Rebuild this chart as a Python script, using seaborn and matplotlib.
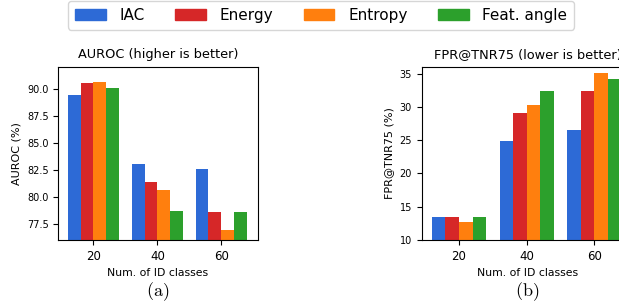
"""
Grouped bar charts: AUROC and FPR@TNR75 versus number of ID classes.
"""

import matplotlib
matplotlib.use("Agg")
import matplotlib.pyplot as plt
import pandas as pd
import seaborn as sns

# Categories and methods
ID_CLASSES: list[str] = ["20", "40", "60"]
METHODS: list[str] = ["IAC", "Energy", "Entropy", "Feat. angle"]
COLORS: list[str] = ["#2d6ad6", "#d62728", "#ff7f0e", "#2ca02c"]

# AUROC (%) per method, one value per ID-class setting
AUROC_IAC: list[float] = [89.42, 83.05, 82.59]
AUROC_ENERGY: list[float] = [90.53, 81.39, 78.62]
AUROC_ENTROPY: list[float] = [90.62, 80.65, 76.95]
AUROC_FEAT: list[float] = [90.04, 78.71, 78.62]

# FPR@TNR75 (%) per method
FPR_IAC: list[float] = [13.45, 24.9, 26.5]
FPR_ENERGY: list[float] = [13.45, 29.1, 32.4]
FPR_ENTROPY: list[float] = [12.7, 30.3, 35.1]
FPR_FEAT: list[float] = [13.45, 32.4, 34.2]


def to_frame(series: list[list[float]]) -> pd.DataFrame:
    rows = []
    for method, values in zip(METHODS, series):
        for cls, v in zip(ID_CLASSES, values):
            rows.append({"classes": cls, "method": method, "value": v})
    return pd.DataFrame(rows)


def draw(ax, df: pd.DataFrame, title: str, ylabel: str, ylim, caption: str) -> None:
    sns.barplot(
        data=df, x="classes", y="value", hue="method",
        order=ID_CLASSES, hue_order=METHODS, palette=COLORS,
        saturation=1, errorbar=None, width=0.8, linewidth=0,
        legend=False, ax=ax,
    )
    ax.set_xlim(-0.55, 2.57)
    ax.set_ylim(*ylim)
    ax.set_title(title, fontsize=9.3)
    ax.set_xlabel("Num. of ID classes", fontsize=7.8)
    ax.set_ylabel(ylabel, fontsize=8)
    ax.tick_params(axis="x", labelsize=8.5)
    ax.tick_params(axis="y", labelsize=7)
    ax.text(0.5, -0.30, caption, transform=ax.transAxes,
            ha="center", va="center", fontsize=13)


def main() -> None:
    plt.rcParams["mathtext.fontset"] = "cm"
    fig = plt.figure(figsize=(6.19, 3.02), dpi=100)
    ax1 = fig.add_axes([0.0942, 0.2053, 0.322, 0.574])
    ax2 = fig.add_axes([0.6813, 0.2053, 0.3414, 0.574])

    draw(ax1, to_frame([AUROC_IAC, AUROC_ENERGY, AUROC_ENTROPY, AUROC_FEAT]),
         "AUROC (higher is better)", "AUROC (%)", (76.0, 92.03), r"$\mathrm{(a)}$")
    ax1.set_yticks([77.5, 80.0, 82.5, 85.0, 87.5, 90.0])
    draw(ax2, to_frame([FPR_IAC, FPR_ENERGY, FPR_ENTROPY, FPR_FEAT]),
         "FPR@TNR75 (lower is better)", "FPR@TNR75 (%)", (10, 36.05), r"$\mathrm{(b)}$")
    ax2.set_yticks([10, 15, 20, 25, 30, 35])

    handles = [plt.Rectangle((0, 0), 1, 1, color=c) for c in COLORS]
    fig.legend(handles, METHODS, loc="upper center", bbox_to_anchor=(0.519, 1.0),
               ncol=4, fontsize=11, columnspacing=2.0, handletextpad=0.9,
               borderaxespad=0.05, borderpad=0.45, frameon=True)
    fig.savefig("out.png", dpi=100)
    plt.close(fig)


if __name__ == "__main__":
    main()
